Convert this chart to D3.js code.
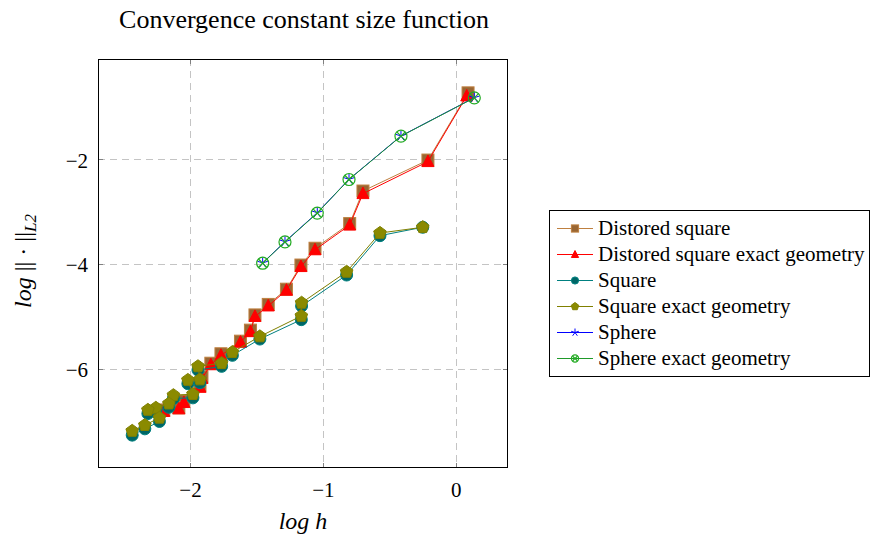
<!DOCTYPE html>
<html><head><meta charset="utf-8">
<script src="https://cdn.jsdelivr.net/npm/d3@7"></script>
<style>body{margin:0;background:#fff} svg{display:block}</style>
</head><body>
<svg id="c" width="872" height="542"></svg>
<script>
// ---- data ----
const titleText = "Convergence constant size function";
const xTicks = [-2, -1, 0];
const yTicks = [-2, -4, -6];
const seriesNames = ["Distored square", "Distored square exact geometry", "Square", "Square exact geometry", "Sphere", "Sphere exact geometry"];

const distX  = [0.093, -0.209, -0.698, -0.798, -1.059, -1.165, -1.274, -1.411, -1.511, -1.545, -1.620, -1.767, -1.843, -1.910, -1.925, -2.046, -2.084, -2.197];
const distY  = [-0.74, -2.02, -2.61, -3.23, -3.70, -4.02, -4.48, -4.77, -4.97, -5.26, -5.47, -5.71, -5.89, -6.15, -6.32, -6.61, -6.74, -6.78];
const distEX = [0.083, -0.209, -0.698, -0.798, -1.059, -1.165, -1.274, -1.411, -1.511, -1.545, -1.620, -1.767, -1.843, -1.910, -1.925, -2.046, -2.084, -2.197];
const distEY = [-0.80, -2.05, -2.66, -3.26, -3.73, -4.05, -4.50, -4.80, -5.00, -5.29, -5.49, -5.74, -5.92, -6.18, -6.35, -6.64, -6.76, -6.81];

const sqX  = [-0.248, -0.570, -0.821, -1.160, -1.162, -1.474, -1.681, -1.762, -1.940, -1.925, -2.016, -1.978, -2.125, -2.159, -2.257, -2.317, -2.230, -2.340, -2.435];
const sqY  = [-3.30, -3.46, -4.21, -4.80, -5.06, -5.43, -5.74, -5.95, -6.02, -6.26, -6.28, -6.55, -6.56, -6.73, -6.80, -6.85, -7.00, -7.14, -7.26];
const sqEX = [-0.248, -0.570, -0.821, -1.160, -1.162, -1.474, -1.681, -1.762, -1.940, -1.925, -2.016, -1.978, -2.125, -2.159, -2.257, -2.317, -2.230, -2.340, -2.435];
const sqEY = [-3.30, -3.41, -4.15, -4.74, -4.99, -5.38, -5.68, -5.89, -5.95, -6.20, -6.21, -6.48, -6.50, -6.66, -6.74, -6.78, -6.93, -7.07, -7.18];

const sphX  = [-1.453, -1.285, -1.042, -0.803, -0.412, 0.140];
const sphY  = [-3.980, -3.575, -3.023, -2.387, -1.562, -0.832];
const sphEX = [-1.453, -1.285, -1.042, -0.803, -0.412, 0.140];
const sphEY = [-3.985, -3.580, -3.030, -2.390, -1.565, -0.835];

// ---- setup ----
const svg = d3.select("#c");
const FONT = "'Liberation Serif','Times New Roman',serif";
const L = 98, R = 508, T = 59, B = 468;
const x = d3.scaleLinear().domain([-2.6925, 0.3937]).range([L, R]);
const y = d3.scaleLinear().domain([-7.886, -0.095]).range([B, T]);

const zip = (xs, ys) => xs.map((v, i) => [v, ys[i]]);
const series = [
  {name: seriesNames[0], data: zip(distX, distY),  line: "#bf8040", mark: "square",   fill: "#996633", stroke: "#bf8040"},
  {name: seriesNames[1], data: zip(distEX, distEY), line: "#ff0000", mark: "triangle", fill: "#ff0000", stroke: "#ff0000"},
  {name: seriesNames[2], data: zip(sqX, sqY),       line: "#008080", mark: "circle",   fill: "#006666", stroke: "#008080"},
  {name: seriesNames[3], data: zip(sqEX, sqEY),     line: "#808000", mark: "pentagon", fill: "#8a8a00", stroke: "#808000"},
  {name: seriesNames[4], data: zip(sphX, sphY),     line: "#0000ff", mark: "star",     fill: "none",    stroke: "#0000ff"},
  {name: seriesNames[5], data: zip(sphEX, sphEY),   line: "#1f9a2a", mark: "otimes",   fill: "none",    stroke: "#22aa22"}
];

// grid
const grid = svg.append("g").attr("stroke", "#c4c4c4").attr("stroke-width", 1).attr("stroke-dasharray", "7,5");
grid.selectAll("line.gx").data(xTicks).join("line")
  .attr("x1", d => Math.round(x(d)) + 0.5).attr("x2", d => Math.round(x(d)) + 0.5)
  .attr("y1", T).attr("y2", B);
grid.selectAll("line.gy").data(yTicks).join("line")
  .attr("y1", d => Math.round(y(d)) + 0.5).attr("y2", d => Math.round(y(d)) + 0.5)
  .attr("x1", L).attr("x2", R);

// ticks inside on all four sides
const tk = svg.append("g").attr("stroke", "#808080").attr("stroke-width", 1);
xTicks.forEach(v => {
  const px = Math.round(x(v)) + 0.5;
  tk.append("line").attr("x1", px).attr("x2", px).attr("y1", B).attr("y2", B - 5);
  tk.append("line").attr("x1", px).attr("x2", px).attr("y1", T).attr("y2", T + 5);
});
yTicks.forEach(v => {
  const py = Math.round(y(v)) + 0.5;
  tk.append("line").attr("y1", py).attr("y2", py).attr("x1", L).attr("x2", L + 5);
  tk.append("line").attr("y1", py).attr("y2", py).attr("x1", R).attr("x2", R - 5);
});

// axes labels via d3 axes
const ax = svg.append("g").attr("transform", `translate(0,${B})`)
  .call(d3.axisBottom(x).tickValues(xTicks).tickSize(0).tickFormat(d3.format("d")));
ax.select(".domain").remove();
ax.selectAll("text").attr("y", 29).attr("dy", 0).attr("font-size", 21).attr("font-family", FONT).attr("fill", "#000");
const ay = svg.append("g").attr("transform", `translate(${L},0)`)
  .call(d3.axisLeft(y).tickValues(yTicks).tickSize(0).tickFormat(d3.format("d")));
ay.select(".domain").remove();
ay.selectAll("text").attr("x", -10).attr("dy", 8).attr("font-size", 21).attr("font-family", FONT).attr("fill", "#000");

// clip
svg.append("clipPath").attr("id", "clip").append("rect").attr("x", L).attr("y", T).attr("width", R - L).attr("height", B - T);

// markers
function drawMarker(g, type, cx, cy, s, fill, stroke) {
  if (type === "square") {
    g.append("rect").attr("x", cx - s).attr("y", cy - s).attr("width", 2 * s).attr("height", 2 * s)
      .attr("fill", fill).attr("stroke", stroke).attr("stroke-width", 1);
  } else if (type === "triangle") {
    const h = s * 1.1;
    g.append("path").attr("d", `M${cx},${cy - h}L${cx + s},${cy + h * 0.75}L${cx - s},${cy + h * 0.75}Z`)
      .attr("fill", fill).attr("stroke", stroke).attr("stroke-width", 1);
  } else if (type === "circle") {
    g.append("circle").attr("cx", cx).attr("cy", cy).attr("r", s)
      .attr("fill", fill).attr("stroke", stroke).attr("stroke-width", 1);
  } else if (type === "pentagon") {
    const pts = d3.range(5).map(i => {
      const a = -Math.PI / 2 + i * 2 * Math.PI / 5;
      return [cx + s * 1.1 * Math.cos(a), cy + s * 1.1 * Math.sin(a)];
    });
    g.append("path").attr("d", "M" + pts.map(p => p.join(",")).join("L") + "Z")
      .attr("fill", fill).attr("stroke", stroke).attr("stroke-width", 1);
  } else if (type === "star") {
    let d = "";
    for (let i = 0; i < 5; i++) {
      const a = -Math.PI / 2 + i * 2 * Math.PI / 5;
      d += `M${cx},${cy}L${cx + s * Math.cos(a)},${cy + s * Math.sin(a)}`;
    }
    g.append("path").attr("d", d).attr("fill", "none").attr("stroke", stroke).attr("stroke-width", 1);
  } else if (type === "otimes") {
    g.append("circle").attr("cx", cx).attr("cy", cy).attr("r", s)
      .attr("fill", "none").attr("stroke", stroke).attr("stroke-width", 1.2);
    const k = s * 0.707;
    g.append("path").attr("d", `M${cx - k},${cy - k}L${cx + k},${cy + k}M${cx - k},${cy + k}L${cx + k},${cy - k}`)
      .attr("fill", "none").attr("stroke", stroke).attr("stroke-width", 1.2);
  }
}

const plot = svg.append("g").attr("clip-path", "url(#clip)");
const lineGen = d3.line().x(d => x(d[0])).y(d => y(d[1]));
series.forEach(s => {
  const g = plot.append("g");
  g.append("path").attr("d", lineGen(s.data)).attr("fill", "none").attr("stroke", s.line).attr("stroke-width", 1);
  const ms = s.mark === "star" ? 5.5 : 6;
  s.data.forEach(d => drawMarker(g, s.mark, x(d[0]), y(d[1]), ms, s.fill, s.stroke));
});

// frame
svg.append("rect").attr("x", L + 0.5).attr("y", T + 0.5).attr("width", R - L - 1).attr("height", B - T - 1)
  .attr("fill", "none").attr("stroke", "#000").attr("stroke-width", 1);

// title
svg.append("text").attr("x", 304).attr("y", 28).attr("text-anchor", "middle")
  .attr("font-family", FONT).attr("font-size", 26).text(titleText);

// x label
svg.append("text").attr("x", 303).attr("y", 529).attr("text-anchor", "middle")
  .attr("font-family", FONT).attr("font-size", 24).attr("font-style", "italic").text("log h");

// y label
const yl = svg.append("text").attr("transform", "translate(31,261) rotate(-90)").attr("text-anchor", "middle")
  .attr("font-family", FONT).attr("font-size", 24);
yl.append("tspan").attr("font-style", "italic").text("log ");
yl.append("tspan").text("|| · ||");
yl.append("tspan").attr("font-style", "italic").attr("font-size", 17).attr("dy", 5).text("L2");

// legend
const lg = svg.append("g");
lg.append("rect").attr("x", 549.5).attr("y", 210.5).attr("width", 320).attr("height", 166)
  .attr("fill", "#fff").attr("stroke", "#000").attr("stroke-width", 1);
series.forEach((s, i) => {
  const cy = 228.5 + i * 26;
  lg.append("line").attr("x1", 557).attr("x2", 593).attr("y1", cy).attr("y2", cy).attr("stroke", s.line).attr("stroke-width", 1);
  drawMarker(lg, s.mark, 575, cy, s.mark === "star" ? 4 : 3.6, s.fill, s.stroke);
  lg.append("text").attr("x", 598).attr("y", cy + 6.5).attr("font-family", FONT).attr("font-size", 21).text(s.name);
});
</script>
</body></html>
